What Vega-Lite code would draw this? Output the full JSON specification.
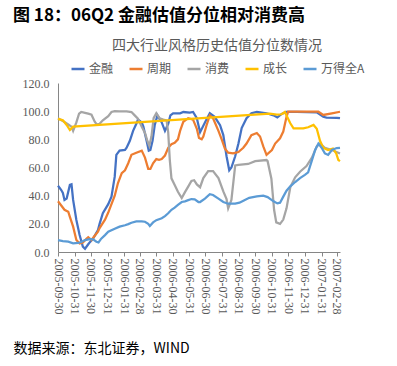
{
"$schema": "https://vega.github.io/schema/vega-lite/v6.json",
"width": 282, "height": 169,
"autosize": {"type": "none"},
"padding": {"left": 58, "top": 83, "right": 57, "bottom": 114},
"background": "white",
"config": {"view": {"stroke": null}, "font": "Noto Sans CJK SC"},
"title": {"text": "图 18：06Q2 金融估值分位相对消费高", "anchor": "start", "frame": "group", "dx": -45, "offset": 14, "font": "Noto Sans CJK SC", "fontSize": 17, "fontWeight": "bold", "color": "#000000"},
"data": {"values": [
{"d":"2005-09-30","s":"金融","v":47},{"d":"2005-10-06","s":"金融","v":44},{"d":"2005-10-09","s":"金融","v":42},{"d":"2005-10-12","s":"金融","v":37},{"d":"2005-10-16","s":"金融","v":38},{"d":"2005-10-22","s":"金融","v":47.6},{"d":"2005-10-25","s":"金融","v":48},{"d":"2005-10-28","s":"金融","v":37},{"d":"2005-11-03","s":"金融","v":22.7},{"d":"2005-11-09","s":"金融","v":12},{"d":"2005-11-15","s":"金融","v":3.8},{"d":"2005-11-19","s":"金融","v":2.3},{"d":"2005-11-25","s":"金融","v":5.5},{"d":"2005-11-28","s":"金融","v":7},{"d":"2005-12-04","s":"金融","v":9.5},{"d":"2005-12-13","s":"金融","v":15.6},{"d":"2005-12-16","s":"金融","v":20},{"d":"2005-12-22","s":"金融","v":27.5},{"d":"2006-01-01","s":"金融","v":34},{"d":"2006-01-07","s":"金融","v":39.3},{"d":"2006-01-13","s":"金融","v":53.5},{"d":"2006-01-16","s":"金融","v":69},{"d":"2006-01-22","s":"金融","v":72},{"d":"2006-02-01","s":"金融","v":72.5},{"d":"2006-02-04","s":"金融","v":74},{"d":"2006-02-10","s":"金融","v":79},{"d":"2006-02-16","s":"金融","v":86},{"d":"2006-02-22","s":"金融","v":91},{"d":"2006-02-25","s":"金融","v":94},{"d":"2006-03-04","s":"金融","v":92},{"d":"2006-03-07","s":"金融","v":89},{"d":"2006-03-13","s":"金融","v":79},{"d":"2006-03-17","s":"金融","v":72},{"d":"2006-03-20","s":"金融","v":72.5},{"d":"2006-03-24","s":"金融","v":79},{"d":"2006-03-28","s":"金融","v":90},{"d":"2006-04-02","s":"金融","v":97},{"d":"2006-04-05","s":"金融","v":95},{"d":"2006-04-10","s":"金融","v":92},{"d":"2006-04-16","s":"金融","v":86},{"d":"2006-04-22","s":"金融","v":91},{"d":"2006-04-26","s":"金融","v":97},{"d":"2006-05-01","s":"金融","v":98.5},{"d":"2006-05-14","s":"金融","v":98.5},{"d":"2006-05-20","s":"金融","v":99.4},{"d":"2006-06-01","s":"金融","v":99},{"d":"2006-06-07","s":"金融","v":99.4},{"d":"2006-06-14","s":"金融","v":95},{"d":"2006-06-20","s":"金融","v":85},{"d":"2006-06-29","s":"金融","v":92},{"d":"2006-07-08","s":"金融","v":98.5},{"d":"2006-07-17","s":"金融","v":96},{"d":"2006-07-27","s":"金融","v":90},{"d":"2006-08-02","s":"金融","v":83},{"d":"2006-08-08","s":"金融","v":68},{"d":"2006-08-13","s":"金融","v":58},{"d":"2006-08-17","s":"金融","v":60},{"d":"2006-08-24","s":"金融","v":68},{"d":"2006-08-30","s":"金融","v":77},{"d":"2006-09-05","s":"金融","v":88},{"d":"2006-09-14","s":"金融","v":95},{"d":"2006-09-23","s":"金融","v":98.5},{"d":"2006-10-03","s":"金融","v":99.4},{"d":"2006-10-21","s":"金融","v":98.5},{"d":"2006-11-03","s":"金融","v":97},{"d":"2006-11-10","s":"金融","v":95.5},{"d":"2006-11-18","s":"金融","v":98},{"d":"2006-11-27","s":"金融","v":99.5},{"d":"2006-12-16","s":"金融","v":99.5},{"d":"2007-01-22","s":"金融","v":99.2},{"d":"2007-02-03","s":"金融","v":96},{"d":"2007-02-09","s":"金融","v":95.5},{"d":"2007-02-28","s":"金融","v":95.3},{"d":"2007-03-06","s":"金融","v":95},
{"d":"2005-09-30","s":"周期","v":36},{"d":"2005-10-06","s":"周期","v":33},{"d":"2005-10-12","s":"周期","v":30},{"d":"2005-10-19","s":"周期","v":28.6},{"d":"2005-10-22","s":"周期","v":25},{"d":"2005-10-28","s":"周期","v":18},{"d":"2005-11-03","s":"周期","v":8.5},{"d":"2005-11-09","s":"周期","v":6},{"d":"2005-11-15","s":"周期","v":6.8},{"d":"2005-11-22","s":"周期","v":9.5},{"d":"2005-11-25","s":"周期","v":10.5},{"d":"2005-12-01","s":"周期","v":8.5},{"d":"2005-12-07","s":"周期","v":11.5},{"d":"2005-12-13","s":"周期","v":14.5},{"d":"2005-12-16","s":"周期","v":17},{"d":"2005-12-26","s":"周期","v":23},{"d":"2006-01-01","s":"周期","v":28},{"d":"2006-01-07","s":"周期","v":34},{"d":"2006-01-13","s":"周期","v":40},{"d":"2006-01-19","s":"周期","v":49},{"d":"2006-01-26","s":"周期","v":56},{"d":"2006-02-01","s":"周期","v":58},{"d":"2006-02-07","s":"周期","v":63},{"d":"2006-02-13","s":"周期","v":69},{"d":"2006-02-22","s":"周期","v":70.5},{"d":"2006-03-04","s":"周期","v":72},{"d":"2006-03-10","s":"周期","v":67},{"d":"2006-03-16","s":"周期","v":59},{"d":"2006-03-20","s":"周期","v":59},{"d":"2006-03-25","s":"周期","v":63},{"d":"2006-03-31","s":"周期","v":66},{"d":"2006-04-05","s":"周期","v":65.5},{"d":"2006-04-10","s":"周期","v":66},{"d":"2006-04-16","s":"周期","v":68.5},{"d":"2006-04-22","s":"周期","v":74},{"d":"2006-04-28","s":"周期","v":76.5},{"d":"2006-05-04","s":"周期","v":77.5},{"d":"2006-05-10","s":"周期","v":80},{"d":"2006-05-14","s":"周期","v":86},{"d":"2006-05-20","s":"周期","v":92.5},{"d":"2006-05-29","s":"周期","v":95},{"d":"2006-06-07","s":"周期","v":94},{"d":"2006-06-14","s":"周期","v":87.5},{"d":"2006-06-18","s":"周期","v":81},{"d":"2006-06-23","s":"周期","v":80},{"d":"2006-06-26","s":"周期","v":82},{"d":"2006-07-02","s":"周期","v":90},{"d":"2006-07-08","s":"周期","v":97},{"d":"2006-07-14","s":"周期","v":95},{"d":"2006-07-24","s":"周期","v":86},{"d":"2006-07-30","s":"周期","v":80},{"d":"2006-08-05","s":"周期","v":73.4},{"d":"2006-08-11","s":"周期","v":70.5},{"d":"2006-08-20","s":"周期","v":70},{"d":"2006-08-30","s":"周期","v":71},{"d":"2006-09-08","s":"周期","v":74},{"d":"2006-09-14","s":"周期","v":77},{"d":"2006-09-23","s":"周期","v":83},{"d":"2006-10-03","s":"周期","v":84.5},{"d":"2006-10-09","s":"周期","v":82},{"d":"2006-10-15","s":"周期","v":75},{"d":"2006-10-21","s":"周期","v":69},{"d":"2006-10-31","s":"周期","v":72.4},{"d":"2006-11-06","s":"周期","v":77},{"d":"2006-11-15","s":"周期","v":80.7},{"d":"2006-11-21","s":"周期","v":85.5},{"d":"2006-11-27","s":"周期","v":96},{"d":"2006-11-30","s":"周期","v":99.6},{"d":"2007-01-25","s":"周期","v":99.6},{"d":"2007-02-03","s":"周期","v":97.3},{"d":"2007-02-19","s":"周期","v":98.5},{"d":"2007-03-06","s":"周期","v":99.6},
{"d":"2005-09-30","s":"消费","v":95},{"d":"2005-10-09","s":"消费","v":93},{"d":"2005-10-19","s":"消费","v":90.5},{"d":"2005-10-25","s":"消费","v":89},{"d":"2005-10-28","s":"消费","v":86},{"d":"2005-11-03","s":"消费","v":92},{"d":"2005-11-08","s":"消费","v":98.2},{"d":"2005-11-12","s":"消费","v":99.4},{"d":"2005-11-19","s":"消费","v":98.8},{"d":"2005-11-25","s":"消费","v":98.2},{"d":"2005-12-01","s":"消费","v":97.5},{"d":"2005-12-07","s":"消费","v":92.5},{"d":"2005-12-11","s":"消费","v":90.4},{"d":"2005-12-16","s":"消费","v":91},{"d":"2005-12-22","s":"消费","v":93.5},{"d":"2006-01-01","s":"消费","v":96.5},{"d":"2006-01-07","s":"消费","v":99.4},{"d":"2006-01-13","s":"消费","v":100},{"d":"2006-01-22","s":"消费","v":99.8},{"d":"2006-02-04","s":"消费","v":99.8},{"d":"2006-02-13","s":"消费","v":99.4},{"d":"2006-02-19","s":"消费","v":97},{"d":"2006-02-25","s":"消费","v":94.7},{"d":"2006-03-04","s":"消费","v":89},{"d":"2006-03-10","s":"消费","v":84.5},{"d":"2006-03-14","s":"消费","v":79.4},{"d":"2006-03-18","s":"消费","v":75.5},{"d":"2006-03-22","s":"消费","v":82},{"d":"2006-03-26","s":"消费","v":95},{"d":"2006-03-31","s":"消费","v":98.5},{"d":"2006-04-06","s":"消费","v":95},{"d":"2006-04-13","s":"消费","v":94},{"d":"2006-04-19","s":"消费","v":93.5},{"d":"2006-04-22","s":"消费","v":85},{"d":"2006-04-25","s":"消费","v":65},{"d":"2006-04-28","s":"消费","v":52.3},{"d":"2006-05-04","s":"消费","v":47.6},{"d":"2006-05-10","s":"消费","v":42.8},{"d":"2006-05-17","s":"消费","v":38.3},{"d":"2006-05-23","s":"消费","v":42.5},{"d":"2006-05-29","s":"消费","v":46.4},{"d":"2006-06-04","s":"消费","v":50.5},{"d":"2006-06-09","s":"消费","v":51},{"d":"2006-06-14","s":"消费","v":48},{"d":"2006-06-20","s":"消费","v":46},{"d":"2006-06-26","s":"消费","v":52.5},{"d":"2006-07-05","s":"消费","v":57.5},{"d":"2006-07-14","s":"消费","v":57.5},{"d":"2006-07-24","s":"消费","v":52.5},{"d":"2006-08-02","s":"消费","v":43},{"d":"2006-08-08","s":"消费","v":37.5},{"d":"2006-08-11","s":"消费","v":31},{"d":"2006-08-17","s":"消费","v":37},{"d":"2006-08-24","s":"消费","v":61.5},{"d":"2006-08-30","s":"消费","v":61.8},{"d":"2006-09-17","s":"消费","v":62.5},{"d":"2006-09-30","s":"消费","v":64.5},{"d":"2006-10-21","s":"消费","v":65.3},{"d":"2006-10-23","s":"消费","v":64.5},{"d":"2006-10-30","s":"消费","v":52},{"d":"2006-11-04","s":"消费","v":30},{"d":"2006-11-08","s":"消费","v":21},{"d":"2006-11-15","s":"消费","v":20},{"d":"2006-11-21","s":"消费","v":23},{"d":"2006-11-27","s":"消费","v":31},{"d":"2006-12-04","s":"消费","v":46},{"d":"2006-12-13","s":"消费","v":53},{"d":"2006-12-22","s":"消费","v":57},{"d":"2007-01-03","s":"消费","v":61},{"d":"2007-01-13","s":"消费","v":67},{"d":"2007-01-22","s":"消费","v":75},{"d":"2007-01-28","s":"消费","v":77},{"d":"2007-02-06","s":"消费","v":74},{"d":"2007-02-19","s":"消费","v":72.4},{"d":"2007-03-06","s":"消费","v":70},
{"d":"2005-09-30","s":"成长","v":94.5},{"d":"2005-10-09","s":"成长","v":93.5},{"d":"2005-10-16","s":"成长","v":90.2},{"d":"2005-10-22","s":"成长","v":86.6},{"d":"2005-10-28","s":"成长","v":89},{"d":"2006-10-27","s":"成长","v":98.2},{"d":"2006-11-09","s":"成长","v":97.5},{"d":"2006-11-18","s":"成长","v":97.8},{"d":"2006-11-24","s":"成长","v":99.4},{"d":"2006-11-27","s":"成长","v":97},{"d":"2006-12-04","s":"成长","v":91.4},{"d":"2006-12-10","s":"成长","v":87.8},{"d":"2006-12-28","s":"成长","v":87.8},{"d":"2007-01-06","s":"成长","v":88.6},{"d":"2007-01-16","s":"成长","v":90.2},{"d":"2007-01-22","s":"成长","v":87.5},{"d":"2007-01-28","s":"成长","v":79},{"d":"2007-02-03","s":"成长","v":74},{"d":"2007-02-12","s":"成长","v":72.4},{"d":"2007-02-21","s":"成长","v":73.4},{"d":"2007-02-27","s":"成长","v":70},{"d":"2007-03-03","s":"成长","v":65.3},{"d":"2007-03-06","s":"成长","v":64.5},
{"d":"2005-09-30","s":"万得全A","v":8.5},{"d":"2005-10-09","s":"万得全A","v":7.8},{"d":"2005-10-19","s":"万得全A","v":7.3},{"d":"2005-10-28","s":"万得全A","v":6.2},{"d":"2005-11-06","s":"万得全A","v":6.4},{"d":"2005-11-12","s":"万得全A","v":7.1},{"d":"2005-11-19","s":"万得全A","v":8.5},{"d":"2005-11-28","s":"万得全A","v":9.2},{"d":"2005-12-04","s":"万得全A","v":9},{"d":"2005-12-10","s":"万得全A","v":7.3},{"d":"2005-12-14","s":"万得全A","v":6.8},{"d":"2005-12-19","s":"万得全A","v":9.5},{"d":"2005-12-26","s":"万得全A","v":12},{"d":"2006-01-01","s":"万得全A","v":14.4},{"d":"2006-01-13","s":"万得全A","v":16.5},{"d":"2006-01-22","s":"万得全A","v":18},{"d":"2006-02-01","s":"万得全A","v":19},{"d":"2006-02-07","s":"万得全A","v":19.8},{"d":"2006-02-13","s":"万得全A","v":20.8},{"d":"2006-02-22","s":"万得全A","v":21.7},{"d":"2006-03-04","s":"万得全A","v":21.8},{"d":"2006-03-10","s":"万得全A","v":21.5},{"d":"2006-03-16","s":"万得全A","v":20},{"d":"2006-03-19","s":"万得全A","v":18.5},{"d":"2006-03-25","s":"万得全A","v":21},{"d":"2006-03-31","s":"万得全A","v":22.6},{"d":"2006-04-10","s":"万得全A","v":24},{"d":"2006-04-16","s":"万得全A","v":25.5},{"d":"2006-04-22","s":"万得全A","v":27.5},{"d":"2006-04-28","s":"万得全A","v":30},{"d":"2006-05-04","s":"万得全A","v":31.5},{"d":"2006-05-10","s":"万得全A","v":33.4},{"d":"2006-05-17","s":"万得全A","v":35.5},{"d":"2006-05-23","s":"万得全A","v":36},{"d":"2006-05-29","s":"万得全A","v":36.8},{"d":"2006-06-04","s":"万得全A","v":37.6},{"d":"2006-06-10","s":"万得全A","v":37.4},{"d":"2006-06-17","s":"万得全A","v":35.5},{"d":"2006-06-20","s":"万得全A","v":35.5},{"d":"2006-06-29","s":"万得全A","v":37.9},{"d":"2006-07-08","s":"万得全A","v":41},{"d":"2006-07-14","s":"万得全A","v":40.5},{"d":"2006-07-24","s":"万得全A","v":37.9},{"d":"2006-08-02","s":"万得全A","v":35.5},{"d":"2006-08-11","s":"万得全A","v":34.3},{"d":"2006-08-24","s":"万得全A","v":34.3},{"d":"2006-09-01","s":"万得全A","v":35},{"d":"2006-09-10","s":"万得全A","v":36.8},{"d":"2006-09-19","s":"万得全A","v":38.5},{"d":"2006-10-03","s":"万得全A","v":39.5},{"d":"2006-10-15","s":"万得全A","v":40},{"d":"2006-10-23","s":"万得全A","v":39},{"d":"2006-11-03","s":"万得全A","v":36},{"d":"2006-11-10","s":"万得全A","v":34.5},{"d":"2006-11-15","s":"万得全A","v":35},{"d":"2006-11-21","s":"万得全A","v":39.3},{"d":"2006-11-27","s":"万得全A","v":43.5},{"d":"2006-12-04","s":"万得全A","v":46.6},{"d":"2006-12-13","s":"万得全A","v":49.7},{"d":"2006-12-22","s":"万得全A","v":52.5},{"d":"2006-12-31","s":"万得全A","v":54.8},{"d":"2007-01-06","s":"万得全A","v":56.5},{"d":"2007-01-13","s":"万得全A","v":65},{"d":"2007-01-19","s":"万得全A","v":72.5},{"d":"2007-01-25","s":"万得全A","v":77},{"d":"2007-01-31","s":"万得全A","v":74},{"d":"2007-02-06","s":"万得全A","v":70},{"d":"2007-02-12","s":"万得全A","v":69},{"d":"2007-02-19","s":"万得全A","v":72.4},{"d":"2007-02-28","s":"万得全A","v":73.8},{"d":"2007-03-06","s":"万得全A","v":74}
]},
"mark": {"type": "line", "strokeWidth": 2.25},
"encoding": {
"x": {"field": "d", "type": "temporal",
 "scale": {"type": "utc", "domain": [{"year":2005,"month":9,"date":30,"utc":true},{"year":2007,"month":3,"date":6,"utc":true}]},
 "axis": {"values": [{"year":2005,"month":9,"date":30,"utc":true},{"year":2005,"month":10,"date":31,"utc":true},{"year":2005,"month":11,"date":30,"utc":true},{"year":2005,"month":12,"date":31,"utc":true},{"year":2006,"month":1,"date":31,"utc":true},{"year":2006,"month":2,"date":28,"utc":true},{"year":2006,"month":3,"date":31,"utc":true},{"year":2006,"month":4,"date":30,"utc":true},{"year":2006,"month":5,"date":31,"utc":true},{"year":2006,"month":6,"date":30,"utc":true},{"year":2006,"month":7,"date":31,"utc":true},{"year":2006,"month":8,"date":31,"utc":true},{"year":2006,"month":9,"date":30,"utc":true},{"year":2006,"month":10,"date":31,"utc":true},{"year":2006,"month":11,"date":30,"utc":true},{"year":2006,"month":12,"date":31,"utc":true},{"year":2007,"month":1,"date":31,"utc":true},{"year":2007,"month":2,"date":28,"utc":true}],
  "format": "%Y-%m-%d", "labelAngle": 90, "labelFont": "Liberation Serif", "labelFontSize": 12, "labelColor": "#595959", "labelOverlap": false, "labelFlush": false, "labelPadding": 2,
  "ticks": true, "tickSize": 4, "tickColor": "#868686", "domainColor": "#868686", "grid": false,
  "title": "数据来源：东北证券，WIND", "titleX": -45, "titleY": 96, "titleAnchor": "start", "titleAlign": "left", "titleBaseline": "middle", "titleFont": "Noto Sans CJK SC", "titleFontSize": 14, "titleFontWeight": "normal", "titleColor": "#000000"}},
"y": {"field": "v", "type": "quantitative", "scale": {"domain": [0, 120]},
 "axis": {"values": [0,20,40,60,80,100,120], "format": ".1f", "labelFont": "Liberation Serif", "labelFontSize": 12, "labelColor": "#595959", "ticks": false, "labelPadding": 9, "domainColor": "#868686", "grid": false, "title": null}},
"color": {"field": "s", "type": "nominal",
 "scale": {"domain": ["金融","周期","消费","成长","万得全A"], "range": ["#4472C4","#ED7D31","#A5A5A5","#FFC000","#5B9BD5"]},
 "legend": {"title": "四大行业风格历史估值分位数情况", "orient": "none", "legendX": 12, "legendY": -44, "direction": "horizontal", "titleAnchor": "middle", "titleOrient": "top", "titleFont": "Noto Sans CJK SC", "titleFontSize": 14, "titleFontWeight": "normal", "titleColor": "#595959", "titleLimit": 400, "titlePadding": 8, "labelFont": "Noto Sans CJK SC", "labelFontSize": 12, "labelColor": "#595959", "symbolType": "stroke", "symbolSize": 169, "symbolStrokeWidth": 2.5, "labelOffset": 3, "columnPadding": 10, "padding": 0, "labelLimit": 100}}
}
}
